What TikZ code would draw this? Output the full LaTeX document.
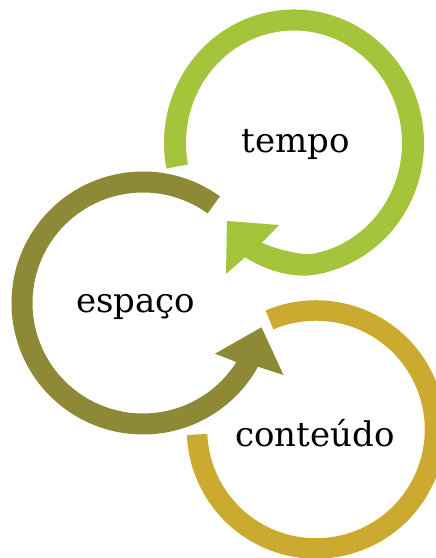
\documentclass[tikz,border=0pt]{standalone}
\usepackage{fontspec}
\setmainfont{DejaVu Serif}
\usetikzlibrary{calc}
\definecolor{tempoclr}{HTML}{A3C43B}
\definecolor{espacoclr}{HTML}{8E8936}
\definecolor{conteudoclr}{HTML}{CBAA2F}
\begin{document}
\begin{tikzpicture}[
    x=1pt, y=1pt,
    word/.style={
        anchor=base, inner sep=0pt, font=\fontsize{34}{40}\selectfont
    },
    ring/.style={
        line width=20.5pt
    }
]
    \clip (0,0) rectangle (436,558);

    \coordinate (ct) at (294,415);
    \coordinate (ce) at (143,255);
    \coordinate (cc) at (316,128.5);

    % conteudo
    \draw[ring, conteudoclr] (cc) ++(113:119) arc[start angle=113, end angle=-177.6, radius=119];

    % espaco
    \fill[espacoclr] (ce) ++(54.2:131.5) arc[start angle=54.2, end angle=331, radius=131.5]
        -- (283.5,183) -- (261.5,230.7) -- (215,204.3)
        -- ($(ce)+(327.7:110.5)$) arc[start angle=327.7, end angle=54.2, radius=110.5] -- cycle;

    % tempo
    \fill[tempoclr] (ct) ++(191:130 and 133.5) arc[start angle=191, end angle=-80, x radius=130, y radius=133.5]
        .. controls +(-25,-4.5) and +(19.5,-12.2) .. (245,300.7)
        -- (226,284) -- (227,337) -- (279,333) -- (262,315.3)
        .. controls +(10,-5) and +(-12,-2.2) .. ($(ct)+(-80:108 and 112.5)$)
        arc[start angle=-80, end angle=191, x radius=108, y radius=112.5] -- cycle;

    \node[word] (tempo) at (296,405) {tempo};
    \node[word] (espaco) at (135.7,245) {espaço};
    \node[word] (conteudo) at (315,111.3) {conteúdo};
\end{tikzpicture}
\end{document}
